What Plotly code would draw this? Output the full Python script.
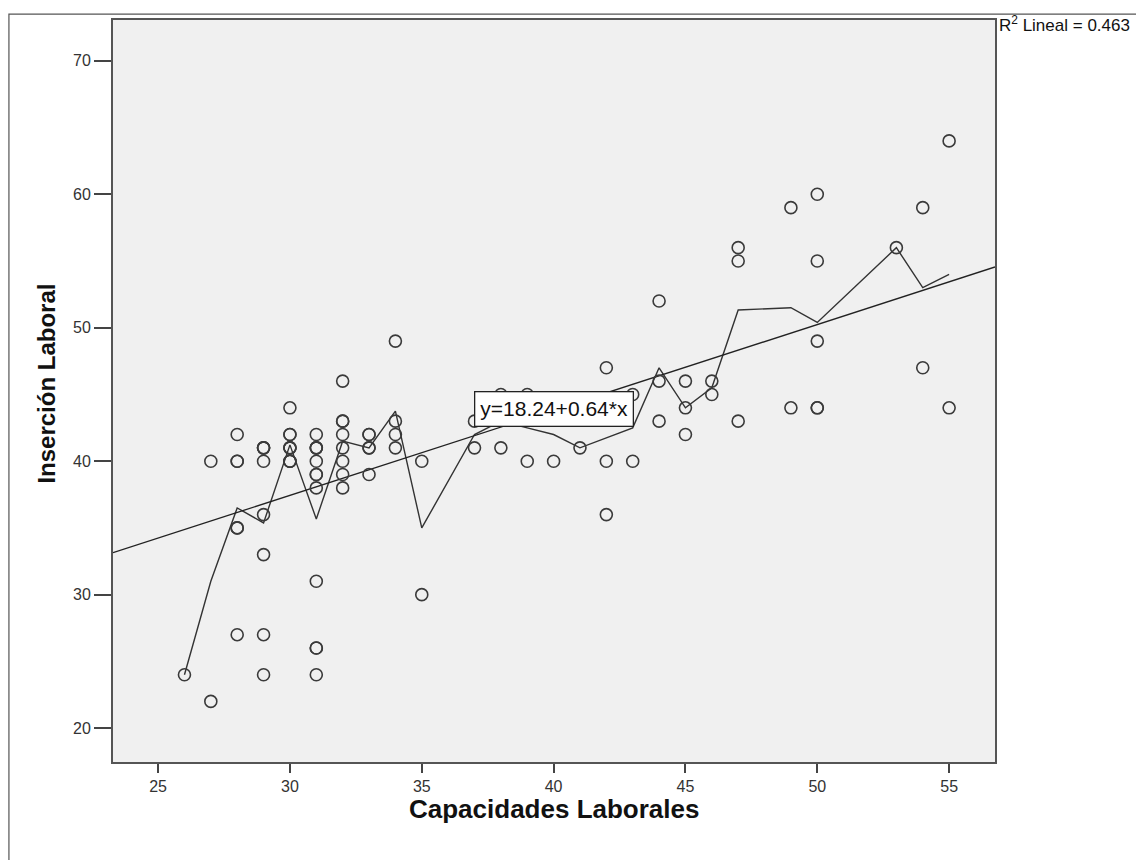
import plotly.graph_objects as go
import pandas as pd

# Data (x = Capacidades Laborales, y = Inserción Laboral)
capacidades = [
    26,
    27, 27,
    28, 28, 28, 28, 28, 28,
    29, 29, 29, 29, 29, 29, 29, 29,
    30, 30, 30, 30, 30, 30, 30, 30, 30,
    31, 31, 31, 31, 31, 31, 31, 31, 31, 31, 31, 31,
    32, 32, 32, 32, 32, 32, 32, 32,
    33, 33, 33, 33, 33,
    34, 34, 34, 34,
    35, 35,
    37, 37,
    38, 38,
    39, 39,
    40, 40,
    41,
    42, 42, 42, 42,
    43, 43,
    44, 44, 44,
    45, 45, 45,
    46, 46,
    47, 47, 47,
    49, 49,
    50, 50, 50, 50, 50,
    53,
    54, 54,
    55, 55,
]
insercion = [
    24,
    40, 22,
    42, 40, 40, 35, 35, 27,
    41, 41, 41, 40, 36, 33, 27, 24,
    44, 42, 42, 41, 41, 41, 40, 40, 40,
    42, 41, 41, 41, 40, 39, 39, 38, 31, 26, 26, 24,
    46, 43, 43, 42, 41, 40, 39, 38,
    42, 42, 41, 41, 39,
    49, 43, 42, 41,
    40, 30,
    43, 41,
    45, 41,
    45, 40,
    44, 40,
    41,
    47, 44, 40, 36,
    45, 40,
    52, 46, 43,
    46, 44, 42,
    46, 45,
    56, 55, 43,
    59, 44,
    60, 55, 49, 44, 44,
    56,
    59, 47,
    64, 44,
]
fit_intercept = 18.24
fit_slope = 0.64
fit_label = "y=18.24+0.64*x"
r2_text = "R<sup>2</sup> Lineal = 0.463"
x_title = "Capacidades Laborales"
y_title = "Inserción Laboral"
x_ticks = [25, 30, 35, 40, 45, 50, 55]
y_ticks = [20, 30, 40, 50, 60, 70]
x_range = [23.29, 56.74]
y_range = [17.46, 73.06]

df = pd.DataFrame({"x": capacidades, "y": insercion})
means = df.groupby("x", as_index=False)["y"].mean()

fit_x = x_range
fit_y = [fit_intercept + fit_slope * v for v in fit_x]

fig = go.Figure()
fig.add_trace(go.Scatter(
    x=means["x"], y=means["y"], mode="lines",
    line=dict(color="#333333", width=1.4), hoverinfo="skip", showlegend=False))
fig.add_trace(go.Scatter(
    x=fit_x, y=fit_y, mode="lines",
    line=dict(color="#222222", width=1.3), hoverinfo="skip", showlegend=False))
fig.add_trace(go.Scatter(
    x=df["x"], y=df["y"], mode="markers",
    marker=dict(symbol="circle-open", size=12, color="#3a3a3a", line=dict(width=1.6)),
    showlegend=False))

fig.update_xaxes(
    range=x_range, tickvals=x_ticks, ticks="outside", ticklen=9, tickwidth=1.6,
    tickcolor="#444444", ticklabelstandoff=0,
    tickfont=dict(family="Liberation Sans Narrow, Liberation Sans, Arial", size=16, color="#333333"),
    showgrid=False, zeroline=False,
    showline=True, linecolor="#555555", linewidth=2, mirror=True)
fig.update_yaxes(
    range=y_range, tickvals=y_ticks, ticks="outside", ticklen=17, tickwidth=1.6,
    tickcolor="#444444", ticklabelstandoff=0,
    tickfont=dict(family="Liberation Sans, Arial", size=16, color="#333333"),
    showgrid=False, zeroline=False,
    showline=True, linecolor="#555555", linewidth=2, mirror=True)

# axis titles
fig.add_annotation(
    x=0.5, y=-0.063, xref="paper", yref="paper", xanchor="center", yanchor="middle",
    text="<b>" + x_title + "</b>", showarrow=False,
    font=dict(family="Liberation Sans, Arial", size=26, color="#111111"))
fig.add_annotation(
    x=-0.0748, y=0.51, xref="paper", yref="paper", xanchor="center", yanchor="middle",
    text="<b>" + y_title + "</b>", showarrow=False, textangle=-90,
    font=dict(family="Liberation Sans, Arial", size=24, color="#111111"))

fig.add_annotation(
    x=40.0, y=43.9, xref="x", yref="y", text=fit_label, showarrow=False,
    font=dict(family="Liberation Sans, Arial", size=21, color="#111111"),
    bgcolor="#ffffff", bordercolor="#222222", borderwidth=1.3, borderpad=5)
fig.add_annotation(
    x=1.002, y=0.994, xref="paper", yref="paper", xanchor="left", yanchor="middle",
    text=r2_text, showarrow=False,
    font=dict(family="Liberation Sans, Arial", size=17, color="#111111"))

# outer frame of the chart
fig.add_shape(type="rect", xref="paper", yref="paper",
              x0=-0.118, x1=1.3, y0=-0.3, y1=1.008,
              line=dict(color="#555555", width=1.2), fillcolor="rgba(0,0,0,0)", layer="below")

fig.update_layout(
    width=1136, height=852,
    margin=dict(l=105, r=149, t=10, b=98),
    plot_bgcolor="#f0f0f0", paper_bgcolor="#ffffff",
    showlegend=False,
)

fig.write_html("out.html")
